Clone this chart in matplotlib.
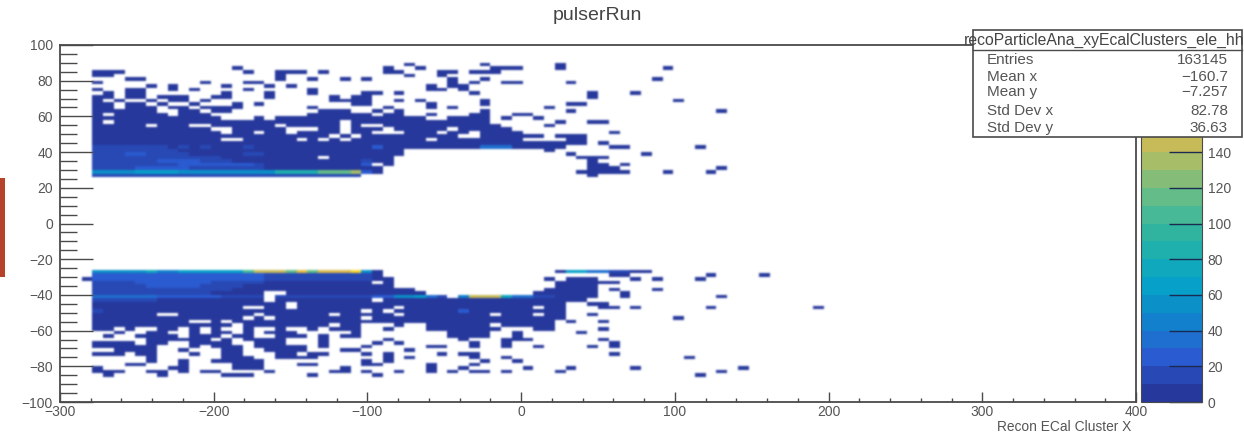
# ECal cluster map, 100 x 100 bins
import numpy as np
import matplotlib.pyplot as plt
from matplotlib.colors import ListedColormap, BoundaryNorm
from matplotlib.patches import Rectangle
from matplotlib.ticker import MultipleLocator

plt.rcParams['font.family'] = ['Liberation Sans', 'DejaVu Sans']

x_edges = np.arange(-300, 401, 7)
y_edges = np.arange(-100, 101, 2)
first_bin = 3

# row index: list of (first column, last column, colour step), step 1 when left out, 0 clears
top_rows = {
    94: [(29, 29), (36, 36), (43, 43)],
    93: [(13, 13), (27, 27), (30, 30), (37, 39), (43, 43), (53, 53)],
    92: [(0, 2), (14, 14), (17, 19), (21, 21), (27, 28), (32, 33), (35, 37)],
    91: [(0, 1), (17, 17), (29, 29), (32, 32)],
    90: [(3, 4), (17, 17), (20, 20), (23, 23), (25, 25), (33, 33), (36, 36), (52, 52)],
    89: [(0, 0), (10, 10), (14, 15), (33, 33), (35, 35), (38, 39), (44, 44)],
    88: [(5, 5), (7, 7), (12, 12), (16, 16), (18, 18), (31, 31), (33, 34)],
    87: [(0, 0), (3, 4), (7, 7), (9, 9), (14, 14), (20, 20), (31, 32), (34, 34)],
    86: [(1, 1), (3, 4), (12, 12), (16, 16), (20, 20), (25, 26), (28, 28), (35, 35), (46, 46), (50, 50)],
    85: [(0, 1), (3, 4), (6, 8), (11, 12), (16, 16), (22, 22), (24, 25), (46, 46)],
    84: [(0, 0), (2, 2), (5, 5), (7, 8), (10, 10), (22, 25), (28, 28), (30, 30), (36, 36), (54, 54)],
    83: [(0, 1), (3, 4), (6, 6), (9, 9), (13, 13), (15, 15), (24, 25), (31, 31), (36, 36), (44, 45)],
    82: [(0, 1), (3, 5), (7, 8), (10, 13), (20, 20), (27, 27), (31, 31), (33, 33), (42, 42)],
    81: [(0, 5), (8, 9), (11, 12), (21, 23), (26, 26), (28, 28), (36, 36), (44, 44), (58, 58)],
    80: [(0, 0), (2, 6), (8, 10), (20, 25), (27, 28), (31, 31), (35, 36), (39, 40)],
    79: [(0, 11), (15, 15), (17, 30), (33, 36), (38, 38), (41, 41)],
    78: [(0, 22), (24, 36), (43, 43), (46, 47), (1, 1, 0)],
    77: [(0, 4), (6, 8), (11, 16), (18, 22), (24, 24), (27, 37), (42, 42)],
    76: [(0, 10), (13, 17), (21, 22), (24, 26), (28, 32), (34, 38)],
    75: [(0, 11), (13, 14), (16, 17), (19, 22), (24, 25), (29, 31), (33, 34), (36, 39), (48, 48)],
    74: [(0, 21), (23, 23), (25, 33), (36, 41), (43, 45)],
    73: [(0, 11), (14, 18), (20, 20), (22, 22), (24, 30), (32, 39), (44, 45)],
    72: [(0, 45), (47, 47)],
    71: [(0, 6, 2), (7, 43), (8, 8, 2), (10, 10, 2), (14, 14, 2), (26, 26, 3), (36, 38, 4), (48, 49), (56, 56)],
    70: [(0, 7, 2), (8, 28), (42, 42)],
    69: [(0, 8, 2), (9, 28), (3, 4, 3), (14, 15, 2), (44, 44), (51, 51)],
    68: [(0, 11, 2), (12, 27), (21, 21, 0), (45, 47)],
    67: [(0, 12, 2), (13, 27), (6, 9, 3), (25, 25, 2), (46, 46)],
    66: [(0, 15, 2), (16, 25), (8, 14, 3), (25, 25, 3), (27, 27), (46, 47), (49, 49)],
    65: [(0, 15, 2), (16, 25), (4, 8, 3), (26, 26), (46, 48), (58, 58)],
    64: [(0, 3, 6), (4, 7, 7), (8, 16, 6), (17, 20, 9), (21, 23, 12), (24, 24, 14), (25, 25, 3), (26, 26),
         (45, 49), (53, 53), (57, 57)],
    63: [(0, 24, 2), (46, 46)],
}

bottom_rows = {
    36: [(0, 4, 6), (5, 5, 8), (6, 7, 5), (8, 10, 7), (11, 13, 7), (14, 14, 11), (15, 17, 15), (18, 18, 12),
         (19, 19, 17), (20, 20, 12), (21, 23, 16), (24, 24, 19), (25, 25, 6), (26, 26),
         (43, 43), (44, 45, 7), (46, 47, 4), (48, 49, 2), (50, 51)],
    35: [(0, 15, 3), (16, 25, 2), (26, 26), (48, 49), (57, 57), (62, 62)],
    34: [(-1, -1), (0, 15, 3), (16, 25, 2), (26, 27), (42, 42), (44, 46), (50, 50), (52, 52), (56, 56)],
    33: [(0, 15, 2), (4, 10, 3), (16, 25, 1), (27, 27), (43, 48)],
    32: [(0, 13, 2), (5, 9, 3), (14, 25, 1), (26, 27), (43, 46)],
    31: [(0, 12, 2), (13, 28), (29, 29), (42, 46), (48, 48), (52, 52)],
    30: [(0, 10, 2), (11, 30), (16, 17, 0), (41, 46), (49, 49)],
    29: [(0, 5, 4), (6, 11, 3), (12, 18, 2), (16, 16, 0), (19, 25, 2), (26, 27, 3), (28, 29, 6), (30, 30, 7),
         (31, 31, 4), (32, 32, 2), (34, 34, 5), (35, 37, 15), (38, 38, 8), (39, 40, 4), (41, 42, 2),
         (43, 46), (49, 49), (58, 58)],
    28: [(0, 5, 2), (6, 45), (16, 16, 0), (26, 26, 0)],
    27: [(0, 43), (18, 18, 0), (46, 47)],
    26: [(0, 43), (14, 15, 0), (18, 18, 0), (28, 28, 0), (41, 41, 0), (47, 48), (50, 50), (57, 57), (67, 67)],
    25: [(0, 43), (0, 0, 2), (25, 25, 0), (27, 27, 0), (34, 34, 3)],
    24: [(0, 43), (6, 7, 0), (15, 15, 0), (22, 22, 0), (28, 28, 0), (37, 37, 0), (41, 41, 0), (46, 46)],
    23: [(0, 43), (14, 14, 0), (16, 16, 0), (25, 25, 0), (54, 54)],
    22: [(0, 42), (9, 10, 0), (12, 12, 0), (44, 44), (47, 47)],
    21: [(0, 32), (13, 13, 0), (22, 22, 0), (25, 26, 0), (27, 27, 0), (29, 30, 0), (33, 36), (38, 42)],
    20: [(0, 1), (3, 3), (6, 7), (9, 9), (11, 11), (14, 14), (17, 17), (20, 20), (22, 24), (27, 27), (31, 36),
         (37, 37), (41, 42), (47, 47)],
    19: [(2, 2), (5, 6), (9, 9), (11, 12), (14, 14), (16, 18), (24, 24), (33, 36), (39, 39), (45, 45)],
    18: [(1, 1), (4, 7), (9, 11), (13, 14), (17, 19), (21, 21), (23, 24), (33, 36), (39, 39)],
    17: [(5, 10), (12, 12), (14, 17), (21, 21), (27, 27), (34, 34), (38, 40), (47, 47)],
    16: [(0, 3), (5, 6), (9, 12), (15, 17), (21, 21), (26, 26), (28, 28), (35, 35), (38, 38), (48, 48)],
    15: [(0, 4), (5, 5), (9, 9), (11, 13), (15, 18), (19, 19), (21, 21), (25, 25), (31, 32), (35, 35), (38, 38),
         (41, 41), (46, 46), (48, 48)],
    14: [(2, 5), (8, 8), (12, 13), (16, 18), (19, 19), (23, 24), (29, 29)],
    13: [(0, 2), (4, 5), (9, 9), (12, 13), (17, 18), (20, 21), (25, 25), (27, 27), (32, 32), (34, 35), (48, 48)],
    12: [(5, 5), (12, 14), (17, 19), (20, 20), (27, 27), (29, 29), (35, 35), (38, 38), (55, 55)],
    11: [(5, 5), (8, 8), (11, 11), (12, 13), (14, 15), (25, 25), (27, 27), (36, 36), (39, 39)],
    10: [(3, 4), (8, 8), (13, 15), (19, 20), (25, 26), (31, 31), (35, 35)],
    9: [(0, 0), (7, 8), (13, 15), (23, 23), (31, 31), (34, 34), (40, 40), (44, 44), (50, 50), (60, 60)],
    8: [(0, 1), (2, 2), (5, 6), (8, 8), (10, 11), (16, 16), (22, 23), (25, 25), (28, 28), (31, 31), (33, 33),
        (35, 36), (38, 38), (43, 43), (58, 58)],
    7: [(1, 1), (6, 6), (12, 14), (20, 20), (26, 26), (56, 56)],
}

palette = ['#27389c', '#2849b5', '#2b5bd0', '#1f6fd0', '#1280cc', '#0b90c8', '#07a0c8', '#10a8bc',
           '#1fb0ae', '#30b4a0', '#48b996', '#64bc88', '#85bd78', '#a8bd68', '#c6bb58', '#dcb94c',
           '#e8bc42', '#f0c63a', '#f5d62c', '#f9e820']

counts = np.zeros((len(y_edges) - 1, len(x_edges) - 1))
for rows in (top_rows, bottom_rows):
    for row, runs in rows.items():
        for run in runs:
            step = run[2] if len(run) > 2 else 1
            counts[row, first_bin + run[0]:first_bin + run[1] + 1] = step * 10 - 5 if step else 0


# the reference is a soft screenshot, so smear the cells a little
def soften(image, dpi):
    kernel = np.array([0.06, 0.24, 0.4, 0.24, 0.06])
    out = image.copy()
    for axis in (0, 1):
        out = np.apply_along_axis(lambda v: np.convolve(v, kernel, mode='same'), axis, out)
    out[:2] = image[:2]
    out[-2:] = image[-2:]
    out[:, :2] = image[:, :2]
    out[:, -2:] = image[:, -2:]
    return out, 0, 0


W, H = 1244, 438
grey = '#4a4a4a'
text_grey = '#555555'
fig = plt.figure(figsize=(W / 100, H / 100), dpi=100, facecolor='white')
ax = fig.add_axes([60 / W, 36 / H, 1076 / W, 357 / H])
cax = fig.add_axes([1141 / W, 36 / H, 61 / W, 357 / H])

cmap = ListedColormap(palette)
cmap.set_bad('white')
norm = BoundaryNorm(np.arange(0, 201, 10), cmap.N)
mesh = ax.pcolormesh(x_edges, y_edges, np.ma.masked_equal(counts, 0), cmap=cmap, norm=norm)
mesh.set_agg_filter(soften)

ax.set_xlim(-300, 400)
ax.set_ylim(-100, 100)
ax.xaxis.set_major_locator(MultipleLocator(100))
ax.xaxis.set_minor_locator(MultipleLocator(20))
ax.yaxis.set_major_locator(MultipleLocator(20))
ax.yaxis.set_minor_locator(MultipleLocator(5))
ax.tick_params(axis='x', which='major', direction='in', length=7, width=1, color=grey,
               labelsize=10, labelcolor=text_grey, pad=2)
ax.tick_params(axis='x', which='minor', direction='in', length=3, width=1, color=grey)
ax.tick_params(axis='y', which='major', direction='in', length=24, width=1, color=grey,
               labelsize=10, labelcolor=text_grey, pad=5)
ax.tick_params(axis='y', which='minor', direction='in', length=12, width=1, color=grey)
for spine in ax.spines.values():
    spine.set_color(grey)
    spine.set_linewidth(1.3)

cb = fig.colorbar(mesh, cax=cax, ticks=np.arange(0, 201, 20), spacing='proportional', drawedges=False)
cb.outline.set_edgecolor(grey)
cb.outline.set_linewidth(0.8)
cax.tick_params(axis='y', which='major', direction='in', length=24, width=1, color='#1a2a50',
                labelsize=10, labelcolor=text_grey, pad=4)
cax.minorticks_off()

fig.text(597 / W, 1 - 16 / H, 'pulserRun', ha='center', va='center', fontsize=14, color='#444444')
fig.text(1131 / W, 1 - 427 / H, 'Recon ECal Cluster X', ha='right', va='center', fontsize=9.9, color=text_grey)

# red edge of a neighbouring slide element
fig.add_artist(Rectangle((0, 1 - 277 / H), 5 / W, 99 / H, transform=fig.transFigure,
                         facecolor='#b5432c', edgecolor='none'))

# statistics box
entries = ['Entries', 'Mean x', 'Mean y', 'Std Dev x', 'Std Dev y']
values = ['163145', '\u2212160.7', '\u22127.257', '82.78', '36.63']
entry_y = [60, 77, 92, 111, 128]
box = Rectangle((973 / W, 1 - 137 / H), 269 / W, 107 / H, transform=fig.transFigure,
                facecolor='white', edgecolor=grey, linewidth=1.2, zorder=5)
fig.add_artist(box)
fig.add_artist(plt.Line2D([973 / W, 1242 / W], [1 - 50 / H, 1 - 50 / H], transform=fig.transFigure,
                          color=grey, linewidth=1.0, zorder=6))
fig.text(1104 / W, 1 - 40 / H, 'recoParticleAna_xyEcalClusters_ele_hh', ha='center', va='center',
         fontsize=11.3, color='#444444', zorder=7)
for name, value, py in zip(entries, values, entry_y):
    fig.text(987 / W, 1 - py / H, name, ha='left', va='center', fontsize=11, color=text_grey, zorder=7)
    fig.text(1228 / W, 1 - py / H, value, ha='right', va='center', fontsize=11, color=text_grey, zorder=7)

fig.savefig('out.png', dpi=100)
